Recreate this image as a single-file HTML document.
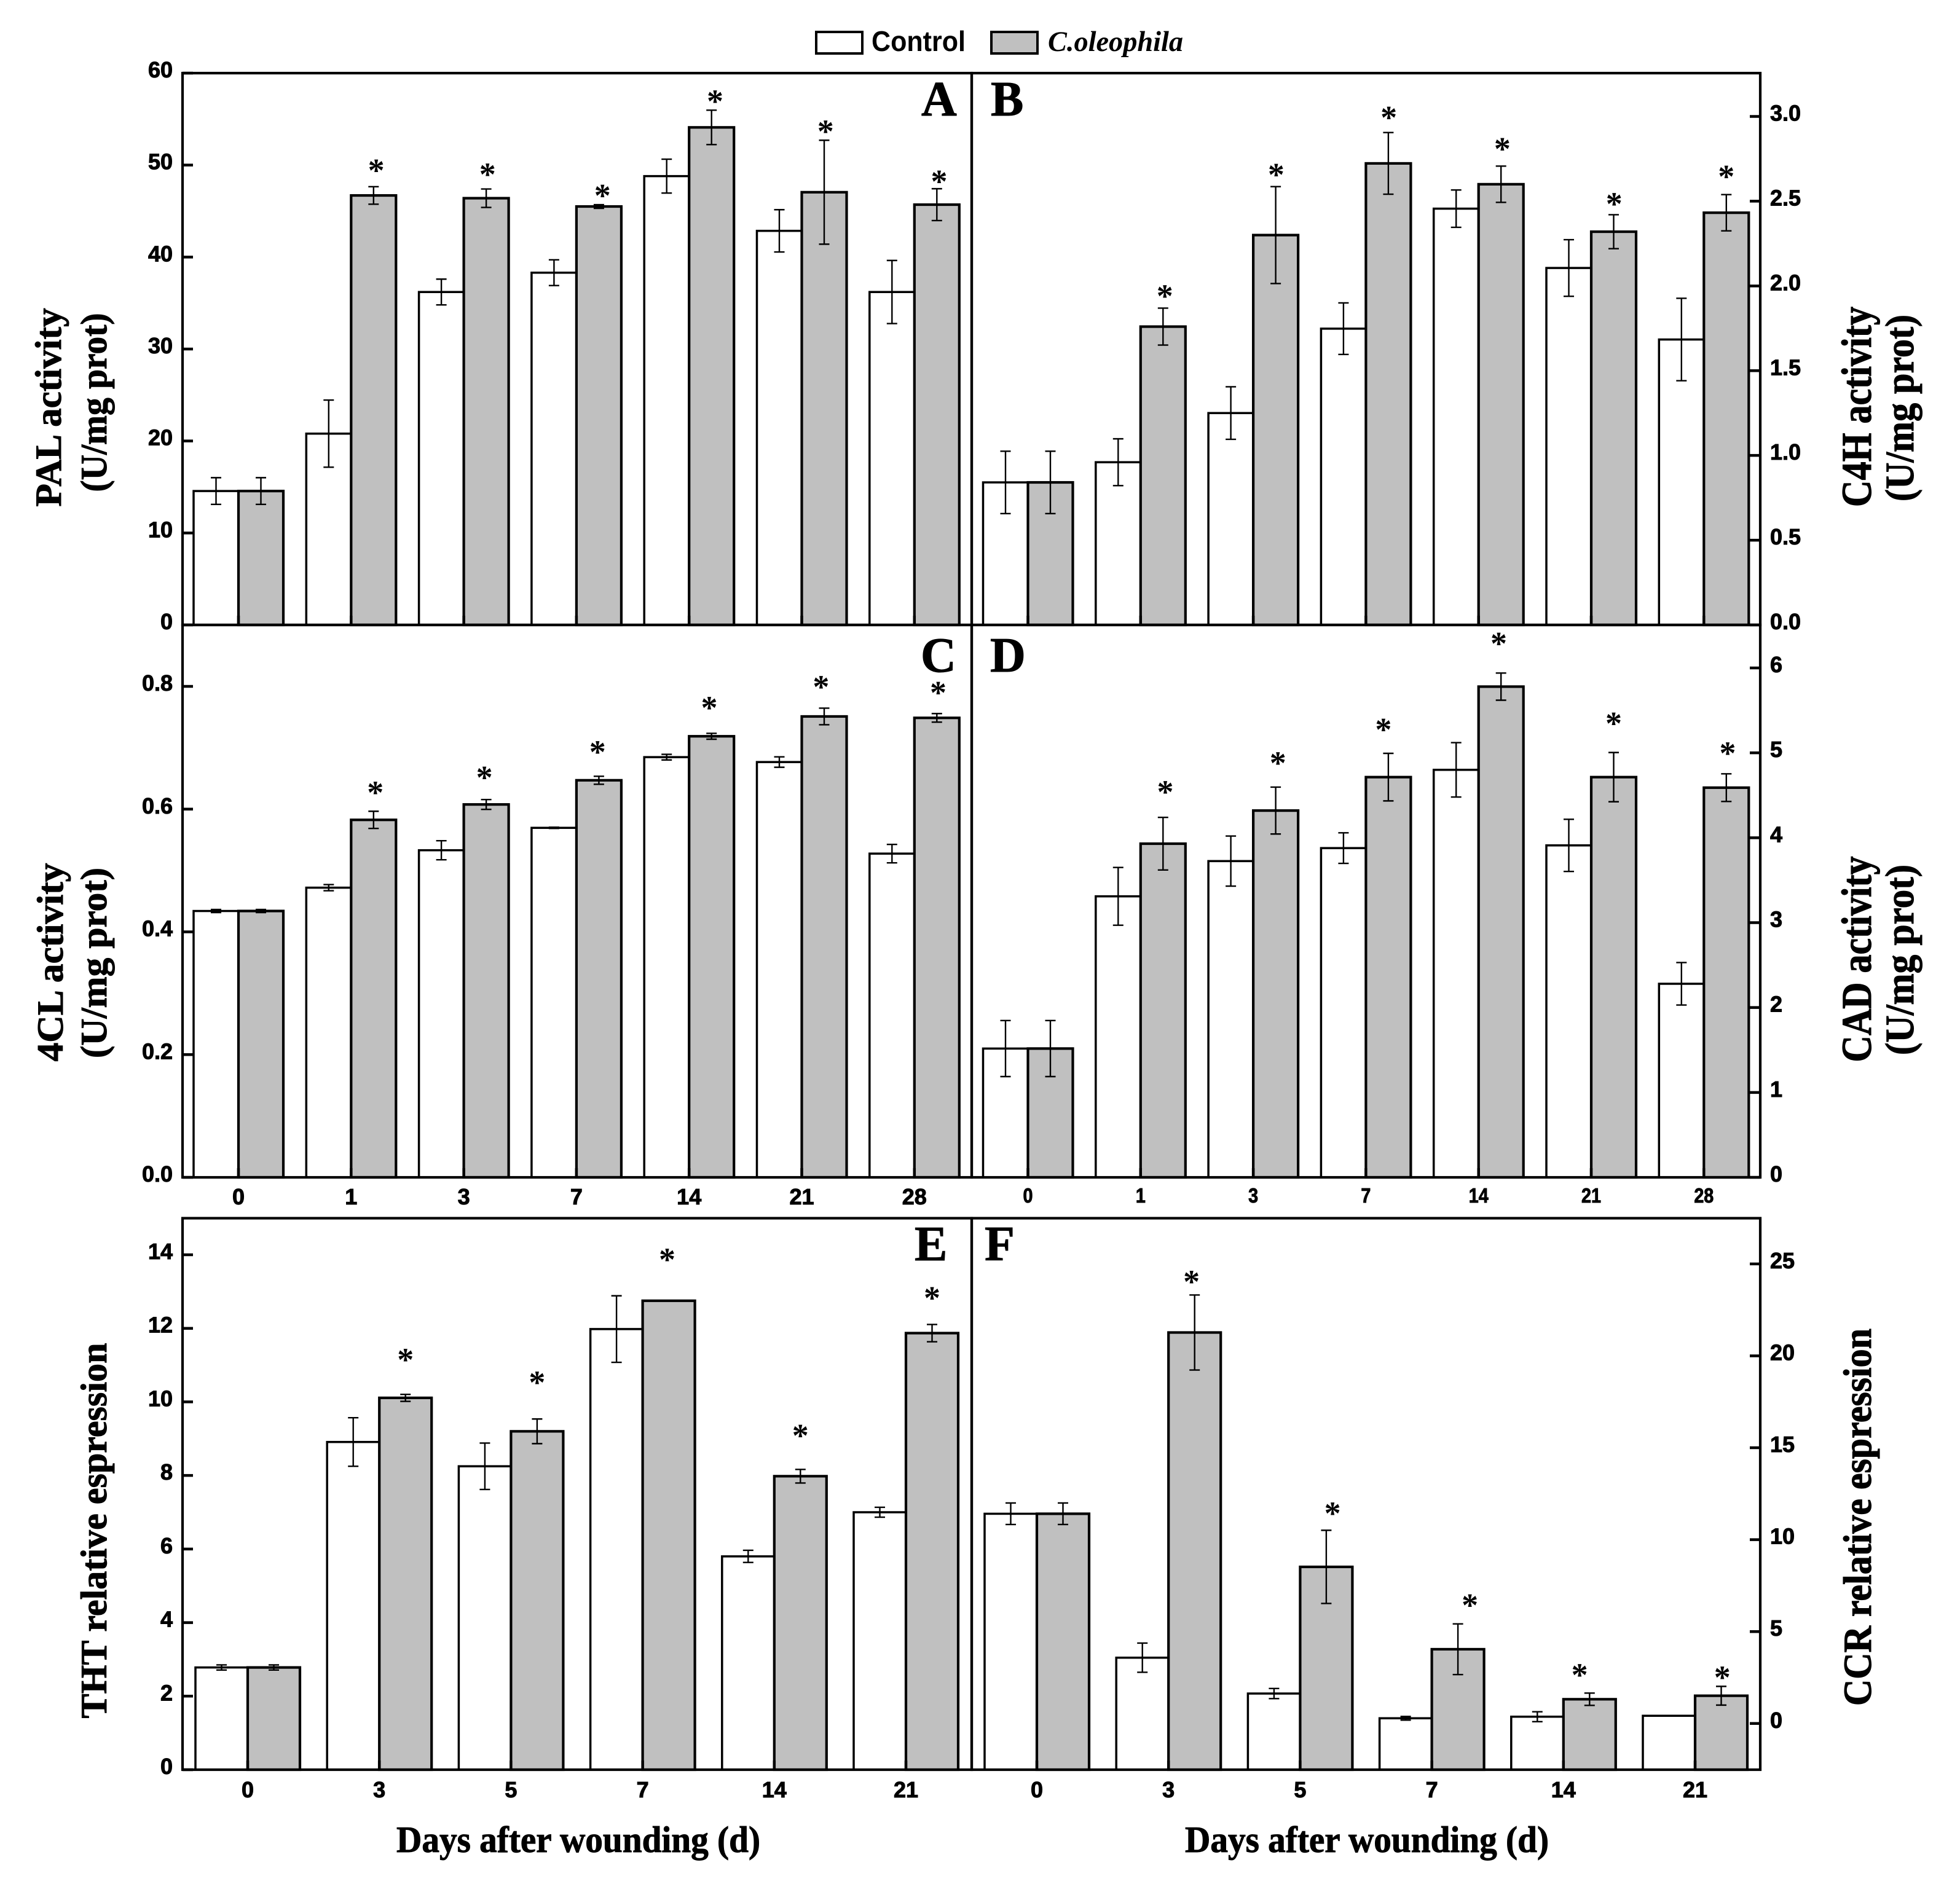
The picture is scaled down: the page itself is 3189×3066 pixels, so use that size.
<!DOCTYPE html>
<html lang="en">
<head>
<meta charset="utf-8">
<title>Enzyme activity and relative expression after wounding</title>
<style>
html,body{margin:0;padding:0;background:#fff;}
svg{display:block;}
.tick{font-family:"Liberation Sans",Arial,sans-serif;font-weight:700;font-size:36px;fill:#000;stroke:#000;stroke-width:1px;}
.title{font-family:"Liberation Serif","Times New Roman",serif;font-weight:700;font-size:60px;fill:#000;stroke:#000;stroke-width:1px;}
.letter{font-family:"Liberation Serif","Times New Roman",serif;font-weight:700;font-size:80px;fill:#000;stroke:#000;stroke-width:1px;}
.star{font-family:"Liberation Serif","Times New Roman",serif;font-weight:700;font-size:54px;fill:#000;text-anchor:middle;}
</style>
</head>
<body>
<svg id="chart" xmlns="http://www.w3.org/2000/svg" width="3189" height="3066" viewBox="0 0 3189 3066">
  <rect x="0" y="0" width="3189" height="3066" fill="#fff"/>
  <g>
    <rect x="1328" y="52" width="75" height="35" fill="#fff" stroke="#000" stroke-width="4"/>
    <text x="1418" y="83" font-family="'Liberation Sans',Arial,sans-serif" font-weight="700" font-size="46" textLength="153" lengthAdjust="spacingAndGlyphs">Control</text>
    <rect x="1613" y="52" width="75" height="35" fill="#c0c0c0" stroke="#000" stroke-width="4"/>
    <text x="1705" y="83" font-family="'Liberation Serif','Times New Roman',serif" font-weight="700" font-style="italic" font-size="47" textLength="220" lengthAdjust="spacingAndGlyphs">C.oleophila</text>
  </g>
  <text class="title" x="645" y="3014" textLength="592" lengthAdjust="spacingAndGlyphs">Days after wounding (d)</text>
  <text class="title" x="1928" y="3014" textLength="592" lengthAdjust="spacingAndGlyphs">Days after wounding (d)</text>
</svg>
<script>
// Categories
const daysEnzyme = ['0', '1', '3', '7', '14', '21', '28'];
const daysGene = ['0', '3', '5', '7', '14', '21'];

// Panel A: PAL activity
const palTicks = ['0', '10', '20', '30', '40', '50', '60'];
const palControl = [14.56, 20.8, 36.2, 38.3, 48.8, 42.85, 36.2];
const palTreated = [14.56, 46.7, 46.4, 45.5, 54.1, 47.05, 45.7];
const palControlErr = [1.45, 3.65, 1.4, 1.4, 1.84, 2.3, 3.43];
const palTreatedErr = [1.45, 0.95, 1.0, 0.2, 1.87, 5.65, 1.73];
const palStarLift = [null, 2.3, 2.1, 1.5, 1.5, 1.5, 1.3];
const palStarShift = [0, 0.06, 0.03, 0.08, 0.08, 0.03, 0.05];

// Panel B: C4H activity
const c4hTicks = ['0.0', '0.5', '1.0', '1.5', '2.0', '2.5', '3.0'];
const c4hControl = [0.841, 0.96, 1.25, 1.748, 2.456, 2.106, 1.684];
const c4hTreated = [0.841, 1.76, 2.30, 2.723, 2.60, 2.32, 2.432];
const c4hControlErr = [0.184, 0.138, 0.155, 0.152, 0.11, 0.167, 0.243];
const c4hTreatedErr = [0.184, 0.109, 0.286, 0.182, 0.107, 0.10, 0.107];
const c4hStarLift = [null, 0.10, 0.098, 0.117, 0.13, 0.092, 0.134];
const c4hStarShift = [0, 0.04, 0.01, 0.01, 0.03, 0.01, 0];

// Panel C: 4CL activity
const cl4Ticks = ['0.0', '0.2', '0.4', '0.6', '0.8'];
const cl4Control = [0.434, 0.472, 0.533, 0.5695, 0.6847, 0.6767, 0.5275];
const cl4Treated = [0.434, 0.5825, 0.6076, 0.647, 0.7187, 0.751, 0.7487];
const cl4ControlErr = [0.0025, 0.005, 0.0155, 0.001, 0.0046, 0.0085, 0.015];
const cl4TreatedErr = [0.0025, 0.014, 0.008, 0.0065, 0.0048, 0.0135, 0.007];
const cl4StarLift = [null, 0.0385, 0.0435, 0.0475, 0.0495, 0.0427, 0.0417];
const cl4StarShift = [0, 0.04, -0.04, -0.03, -0.05, -0.07, 0.03];

// Panel D: CAD activity
const cadTicks = ['0', '1', '2', '3', '4', '5', '6'];
const cadControl = [1.517, 3.31, 3.725, 3.878, 4.80, 3.91, 2.28];
const cadTreated = [1.517, 3.93, 4.32, 4.714, 5.78, 4.714, 4.59];
const cadControlErr = [0.33, 0.34, 0.295, 0.18, 0.32, 0.307, 0.25];
const cadTreatedErr = [0.33, 0.31, 0.276, 0.28, 0.16, 0.29, 0.163];
const cadStarLift = [null, 0.355, 0.34, 0.337, 0.405, 0.40, 0.30];
const cadStarShift = [0, 0.05, 0.05, -0.11, -0.05, 0, 0.03];

// Panel E: THT relative expression
const thtTicks = ['0', '2', '4', '6', '8', '10', '12', '14'];
const thtControl = [2.78, 8.91, 8.25, 11.98, 5.8, 7.0];
const thtTreated = [2.78, 10.11, 9.2, 12.75, 7.98, 11.87];
const thtControlErr = [0.07, 0.66, 0.63, 0.905, 0.165, 0.135];
const thtTreatedErr = [0.07, 0.095, 0.335, 0, 0.185, 0.235];
const thtStarLift = [null, 1.07, 1.12, 1.25, 1.05, 0.85];
const thtStarShift = [0, 0, 0, -0.03, 0, 0];

// Panel F: CCR relative expression
const ccrTicks = ['0', '5', '10', '15', '20', '25'];
const ccrControl = [11.41, 3.58, 1.63, 0.285, 0.37, 0.42];
const ccrTreated = [11.41, 21.27, 8.52, 4.04, 1.32, 1.51];
const ccrControlErr = [0.585, 0.795, 0.276, 0.1, 0.27, 0];
const ccrTreatedErr = [0.585, 2.04, 1.99, 1.38, 0.335, 0.51];
const ccrStarLift = [null, 0.98, 1.19, 1.28, 1.24, 0.755];
const ccrStarShift = [0, -0.06, 0.12, 0.23, -0.19, 0.02];

const SVG_NS = 'http://www.w3.org/2000/svg';
const chart = document.getElementById('chart');

function make(parent, tag, attrs, text) {
  const el = document.createElementNS(SVG_NS, tag);
  for (const key in attrs) el.setAttribute(key, attrs[key]);
  if (text !== undefined) el.textContent = text;
  parent.appendChild(el);
  return el;
}

const panels = [
  { id: 'a', name: 'pal', letter: 'A', letterX: 1499, letterY: 188,
    left: 297, right: 1581, top: 119, bottom: 1017, start: 388, step: 183.3, barW: 73,
    v0: 0, p0: 1017, v1: 60, p1: 119, side: 'left', tickLabels: palTicks, showX: false, cats: daysEnzyme,
    control: palControl, treated: palTreated, controlErr: palControlErr, treatedErr: palTreatedErr,
    starLift: palStarLift, starShift: palStarShift,
    titles: [{ t: 'PAL activity', x: 99, y: 663, len: 323, sy: 1 }, { t: '(U/mg prot)', x: 173, y: 655, len: 291, sy: 1 }] },
  { id: 'b', name: 'c4h', letter: 'B', letterX: 1612, letterY: 188,
    left: 1581, right: 2864, top: 119, bottom: 1017, start: 1672.5, step: 183.3, barW: 73,
    v0: 0, p0: 1017, v1: 3, p1: 189.5, side: 'right', tickLabels: c4hTicks, showX: false, cats: daysEnzyme,
    control: c4hControl, treated: c4hTreated, controlErr: c4hControlErr, treatedErr: c4hTreatedErr,
    starLift: c4hStarLift, starShift: c4hStarShift,
    titles: [{ t: 'C4H activity', x: 3044, y: 662, len: 326, sy: 1.15 }, { t: '(U/mg prot)', x: 3113, y: 664, len: 304, sy: 1.1 }] },
  { id: 'c', name: '4cl', letter: 'C', letterX: 1498, letterY: 1093,
    left: 297, right: 1581, top: 1017, bottom: 1916, start: 388, step: 183.3, barW: 73,
    v0: 0, p0: 1916, v1: 0.8, p1: 1117, side: 'left', tickLabels: cl4Ticks, showX: true, xFont: 36, xScale: 1, xBase: 1960, cats: daysEnzyme,
    control: cl4Control, treated: cl4Treated, controlErr: cl4ControlErr, treatedErr: cl4TreatedErr,
    starLift: cl4StarLift, starShift: cl4StarShift,
    titles: [{ t: '4CL activity', x: 102, y: 1566, len: 323, sy: 1 }, { t: '(U/mg prot)', x: 173, y: 1567, len: 310, sy: 1 }] },
  { id: 'd', name: 'cad', letter: 'D', letterX: 1611, letterY: 1093,
    left: 1581, right: 2864, top: 1017, bottom: 1916, start: 1672.5, step: 183.3, barW: 73,
    v0: 0, p0: 1916, v1: 6, p1: 1087, side: 'right', tickLabels: cadTicks, showX: true, xFont: 33, xScale: 0.87, xBase: 1957, cats: daysEnzyme,
    control: cadControl, treated: cadTreated, controlErr: cadControlErr, treatedErr: cadTreatedErr,
    starLift: cadStarLift, starShift: cadStarShift,
    titles: [{ t: 'CAD activity', x: 3044, y: 1561, len: 335, sy: 1.15 }, { t: '(U/mg prot)', x: 3113, y: 1562, len: 310, sy: 1.1 }] },
  { id: 'e', name: 'tht', letter: 'E', letterX: 1488, letterY: 2051,
    left: 297, right: 1581, top: 1982.5, bottom: 2880, start: 403, step: 214.2, barW: 85,
    v0: 0, p0: 2880, v1: 14, p1: 2042, side: 'left', tickLabels: thtTicks, showX: true, xFont: 36, xScale: 1, xBase: 2925, cats: daysGene,
    control: thtControl, treated: thtTreated, controlErr: thtControlErr, treatedErr: thtTreatedErr,
    starLift: thtStarLift, starShift: thtStarShift,
    titles: [{ t: 'THT relative espression', x: 173, y: 2491, len: 611, sy: 1 }] },
  { id: 'f', name: 'ccr', letter: 'F', letterX: 1602, letterY: 2051,
    left: 1581, right: 2864, top: 1982.5, bottom: 2880, start: 1687, step: 214.2, barW: 85,
    v0: 0, p0: 2804.8, v1: 25, p1: 2056.9, side: 'right', tickLabels: ccrTicks, showX: true, xFont: 36, xScale: 1, xBase: 2925, cats: daysGene,
    control: ccrControl, treated: ccrTreated, controlErr: ccrControlErr, treatedErr: ccrTreatedErr,
    starLift: ccrStarLift, starShift: ccrStarShift,
    titles: [{ t: 'CCR relative espression', x: 3044, y: 2469, len: 614, sy: 1.08 }] }
];

function drawBar(group, p, yOf, left, value, fill, label) {
  const bar = make(group, 'rect', {
    x: left, y: yOf(value), width: p.barW,
    height: Math.max(0, p.bottom - yOf(value)),
    fill: fill, stroke: '#000', 'stroke-width': fill === '#fff' ? 3.5 : 4.2
  });
  
  
}

function drawError(group, yOf, cx, value, err, label) {
  if (!err) return;
  const hi = yOf(value + err);
  const lo = yOf(value - err);
  const stem = make(group, 'path', {
    d: 'M' + (cx - 8.5) + ' ' + hi + 'H' + (cx + 8.5) + 'M' + cx + ' ' + hi + 'V' + lo + 'M' + (cx - 8.5) + ' ' + lo + 'H' + (cx + 8.5),
    fill: 'none', stroke: '#000', 'stroke-width': 2.4
  });
  
  
}

panels.forEach(function (p) {
  const k = (p.p1 - p.p0) / (p.v1 - p.v0);
  const yOf = function (v) { return p.p0 + (v - p.v0) * k; };
  const xOf = function (i) { return p.start + p.step * i; };

  const group = make(chart, 'g', {});
  
  

  p.cats.forEach(function (cat, i) {
    const cx = xOf(i);
    drawBar(group, p, yOf, cx - p.barW, p.control[i], '#fff', p.name + '-control-bar-day-' + cat);
    drawBar(group, p, yOf, cx, p.treated[i], '#c0c0c0', p.name + '-treated-bar-day-' + cat);
    drawError(group, yOf, cx - p.barW / 2, p.control[i], p.controlErr[i], p.name + '-control-error-day-' + cat);
    drawError(group, yOf, cx + p.barW / 2, p.treated[i], p.treatedErr[i], p.name + '-treated-error-day-' + cat);
    if (p.starLift[i] !== null) {
      const top = p.treated[i] + p.treatedErr[i] + p.starLift[i];
      const star = make(group, 'text', {
        class: 'star',
        x: cx + p.barW / 2 + p.starShift[i] * p.barW,
        y: yOf(top) + 26
      }, '*');
      
      
    }
    const xTick = make(group, 'line', {
      x1: cx, x2: cx, y1: p.bottom, y2: p.bottom - 15, stroke: '#000', 'stroke-width': 4.5
    });
    
    
    if (p.showX) {
      const label = make(group, 'text', {
        class: 'tick',
        'text-anchor': 'middle',
        'font-size': p.xFont,
        style: 'font-size:' + p.xFont + 'px',
        transform: 'translate(' + cx + ' ' + p.xBase + ') scale(' + p.xScale + ' 1)'
      }, cat);
      
      
    }
  });

  const frame = make(group, 'rect', {
    x: p.left, y: p.top, width: p.right - p.left, height: p.bottom - p.top,
    fill: 'none', stroke: '#000', 'stroke-width': 4.2
  });
  
  

  p.tickLabels.forEach(function (lab) {
    const py = yOf(parseFloat(lab));
    const onLeft = p.side === 'left';
    const tick = make(group, 'line', {
      x1: onLeft ? p.left : p.right,
      x2: onLeft ? p.left + 17 : p.right - 17,
      y1: py, y2: py, stroke: '#000', 'stroke-width': 4.5
    });
    
    
    const text = make(group, 'text', {
      class: 'tick',
      x: onLeft ? 281 : 2880,
      y: py + 7,
      'text-anchor': onLeft ? 'end' : 'start'
    }, lab);
    
    
  });

  const letter = make(group, 'text', { class: 'letter', x: p.letterX, y: p.letterY }, p.letter);
  
  

  p.titles.forEach(function (t, n) {
    const title = make(group, 'text', {
      class: 'title',
      'text-anchor': 'middle',
      textLength: t.len,
      lengthAdjust: 'spacingAndGlyphs',
      transform: 'translate(' + t.x + ' ' + t.y + ') rotate(-90) scale(1 ' + t.sy + ')'
    }, t.t);
    
    
  });
});
</script>
</body>
</html>
